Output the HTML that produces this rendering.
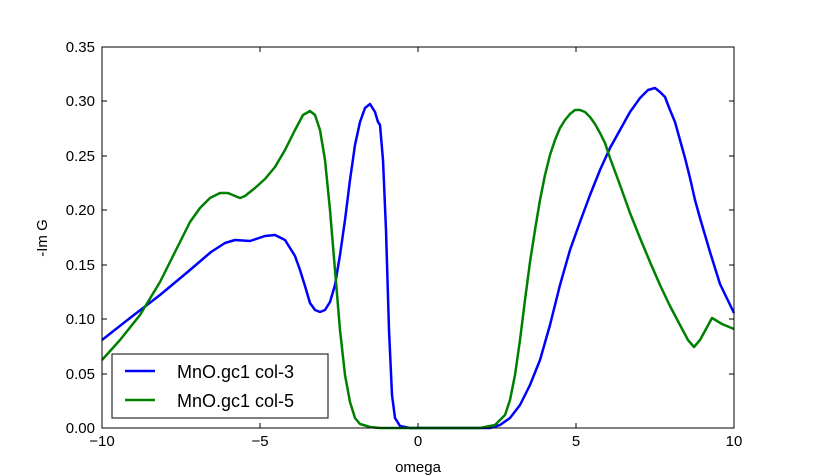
<!DOCTYPE html>
<html><head><style>body{margin:0;background:#fff}svg{display:block}</style></head><body>
<svg width="815" height="476" xmlns="http://www.w3.org/2000/svg" font-family="Liberation Sans, DejaVu Sans, sans-serif">
<rect width="815" height="476" fill="#fff"/>
<g fill="none" stroke-width="2.5" stroke-linejoin="round">
<polyline stroke="#0000ff" points="102,340 130,318 160,295 190,270 211,252 225,243 235,240 250,241 265,236 275,235 285,240 295,256 300,270 305,286 310,303 315,310 320,312 325,310 330,302 335,285 340,255 345,220 350,180 355,145 360,122 365,108 370,104 375,112 378,122 380,125 383,160 386,230 389,330 392,395 395,418 400,426 410,428 490,428 500,425 510,418 520,405 530,385 540,360 550,325 560,285 570,250 580,222 590,195 600,170 610,148 620,130 630,112 640,98 648,90 655,88 660,92 665,97 670,110 675,122 680,140 685,158 690,178 695,200 700,218 710,252 720,284 734,313"/>
<polyline stroke="#008000" points="102,360 120,340 140,315 160,282 170,262 180,242 190,222 200,208 210,198 220,193 228,193 235,196 240,198 245,196 255,188 265,179 275,167 285,150 295,130 303,115 310,111 315,115 320,130 325,160 330,210 335,270 340,330 345,375 350,402 355,418 360,424 370,427 380,428 480,428 495,425 505,415 510,400 515,375 520,340 525,300 530,262 535,230 540,200 545,175 550,155 555,140 560,128 565,120 570,114 575,110 580,110 585,112 590,117 595,124 600,133 605,143 610,158 620,185 630,213 640,238 650,262 660,285 670,306 680,325 688,340 694,347 700,340 712,318 722,324 734,329"/>
</g>
<rect x="102" y="47" width="632" height="381" fill="none" stroke="#000" stroke-width="1"/>
<g stroke="#000" stroke-width="1">
<path d="M102,428v-5M260,428v-5M418,428v-5M576,428v-5M734,428v-5M102,47v5M260,47v5M418,47v5M576,47v5M734,47v5"/>
<path d="M102,428h5M102,374h5M102,319h5M102,265h5M102,210h5M102,156h5M102,101h5M102,47h5M734,428h-5M734,374h-5M734,319h-5M734,265h-5M734,210h-5M734,156h-5M734,101h-5M734,47h-5"/>
</g>
<g font-size="15" fill="#000" text-anchor="middle">
<text x="102" y="446">−10</text><text x="260" y="446">−5</text><text x="418" y="446">0</text><text x="576" y="446">5</text><text x="734" y="446">10</text>
<text x="418" y="472">omega</text>
</g>
<g font-size="15" fill="#000" text-anchor="end">
<text x="95" y="433">0.00</text><text x="95" y="379">0.05</text><text x="95" y="324">0.10</text><text x="95" y="270">0.15</text><text x="95" y="215">0.20</text><text x="95" y="161">0.25</text><text x="95" y="106">0.30</text><text x="95" y="52">0.35</text>
</g>
<text x="47" y="238" font-size="15" text-anchor="middle" transform="rotate(-90 47 238)">-Im G</text>
<rect x="112" y="354" width="216" height="64" fill="#fff" stroke="#000" stroke-width="1"/>
<line x1="125" y1="371" x2="155" y2="371" stroke="#0000ff" stroke-width="2.5"/>
<line x1="125" y1="400" x2="155" y2="400" stroke="#008000" stroke-width="2.5"/>
<text x="177" y="378" font-size="18">MnO.gc1 col-3</text>
<text x="177" y="407" font-size="18">MnO.gc1 col-5</text>
</svg>
</body></html>
